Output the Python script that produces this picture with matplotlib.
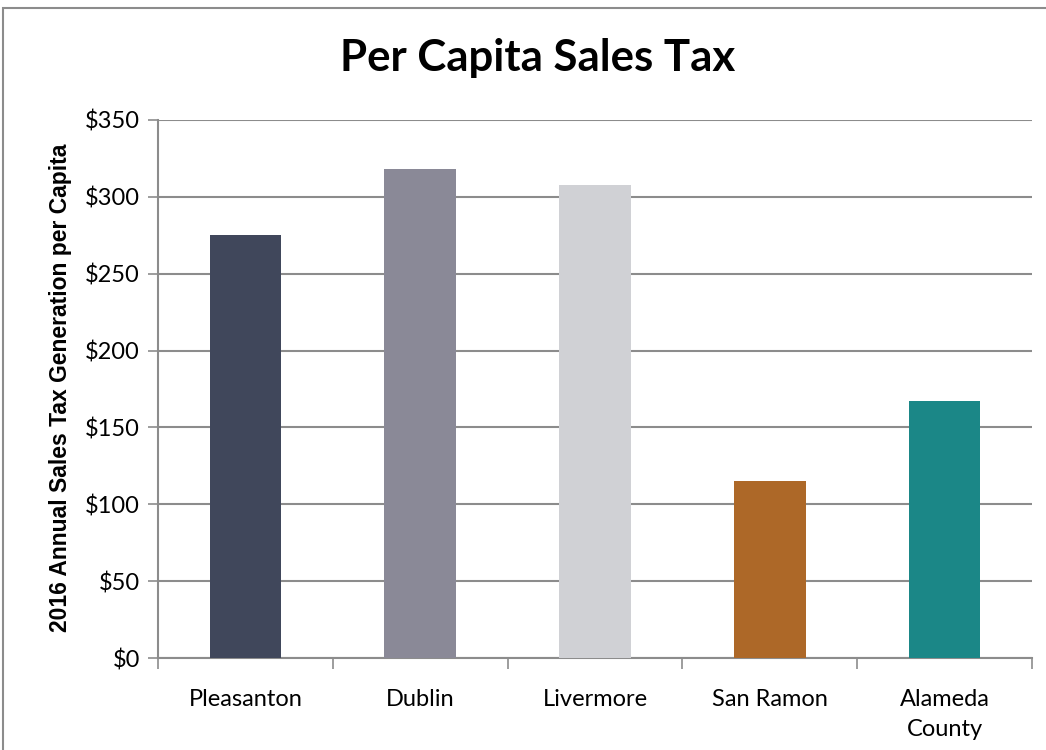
import matplotlib.pyplot as plt
from matplotlib.patches import Rectangle

categories = ["Pleasanton", "Dublin", "Livermore", "San Ramon", "Alameda\nCounty"]
values = [275, 318, 308, 115, 167]
bar_colors = ["#40475b", "#8a8997", "#d0d1d5", "#ad6828", "#1b8787"]
y_ticks = [0, 50, 100, 150, 200, 250, 300, 350]

plt.rcParams['font.family'] = ['Lato', 'DejaVu Sans']

fig = plt.figure(figsize=(10.46, 7.5), dpi=100)
ax = fig.add_axes([158 / 1046, 1 - 658 / 750, (1032 - 158) / 1046, (658 - 120) / 750])

# chart-area frame, runs off the right/bottom edges like the original
fig.patches.append(Rectangle((3 / 1046, -0.05), 1.1, 1 - 8 / 750 + 0.05,
                             transform=fig.transFigure, fill=False,
                             edgecolor="#8c8c8c", linewidth=1.5))

x = range(len(categories))
ax.bar(x, values, width=0.41, color=bar_colors, zorder=3)

ax.set_xlim(-0.5, len(categories) - 0.5)
ax.set_ylim(0, 350)
ax.set_yticks(y_ticks)
ax.set_yticklabels([f"${v}" for v in y_ticks], fontsize=17)
ax.yaxis.grid(True, color="#8c8c8c", linewidth=1.5, zorder=0)

ax.set_xticks([i + 0.5 for i in range(-1, len(categories))], minor=False)
ax.set_xticklabels([])
ax.set_xticks(list(x), minor=True)
ax.set_xticklabels(categories, minor=True, fontsize=17, linespacing=1.55)
ax.tick_params(axis="x", which="major", length=8, color="#8c8c8c", width=1.2)
ax.tick_params(axis="x", which="minor", length=0, pad=22)
ax.tick_params(axis="y", length=7, color="#8c8c8c", width=1.2, pad=6)

for s in ["top", "right"]:
    ax.spines[s].set_visible(False)
for s in ["left", "bottom"]:
    ax.spines[s].set_color("#8c8c8c")
    ax.spines[s].set_linewidth(1.5)

fig.text(61 / 1046, 1 - 388 / 750, "2016 Annual Sales Tax Generation per Capita",
         rotation=90, ha="center", va="center", fontsize=16.5, fontweight="bold",
         family=["Liberation Sans", "DejaVu Sans"])
fig.text(538 / 1046, 1 - 58 / 750, "Per Capita Sales Tax", ha="center", va="center",
         fontsize=31.5, fontweight="bold")

fig.savefig("out.png", dpi=100)
